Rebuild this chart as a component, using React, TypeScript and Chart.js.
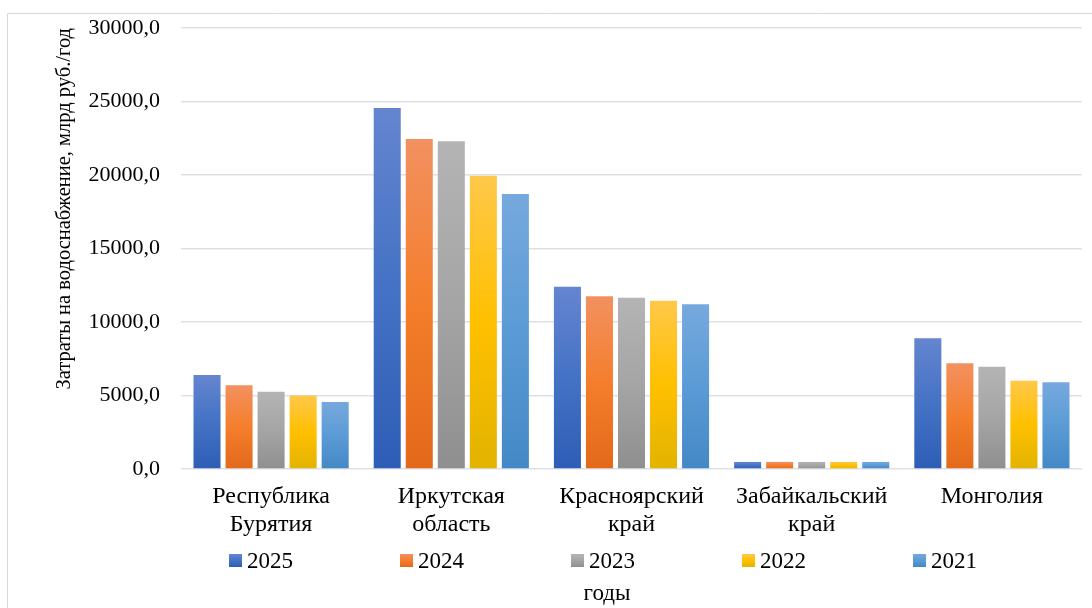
import React, { useEffect, useRef } from "react";
import { Chart, registerables } from "chart.js";

Chart.register(...registerables);

// Regions (two-line labels where the name wraps)
const categories: string[][] = [
  ["Республика", "Бурятия"],
  ["Иркутская", "область"],
  ["Красноярский", "край"],
  ["Забайкальский", "край"],
  ["Монголия"],
];

const years = ["2025", "2024", "2023", "2022", "2021"];

// Water supply costs, bln rub./year
const values2025 = [6400, 24550, 12400, 480, 8900];
const values2024 = [5700, 22450, 11750, 480, 7200];
const values2023 = [5250, 22300, 11650, 480, 6950];
const values2022 = [5000, 19950, 11450, 480, 6000];
const values2021 = [4550, 18700, 11200, 480, 5900];

const yTicks = [0, 5000, 10000, 15000, 20000, 25000, 30000];

const yTitle = "Затраты на водоснабжение, млрд руб./год";
const xTitle = "годы";

// light top, base middle, dark bottom
const gradientStops: string[][] = [
  ["#6585d0", "#4472c4", "#2e5db6"],
  ["#f29160", "#f47e2c", "#e2691a"],
  ["#b4b4b4", "#a5a5a5", "#8f8f8f"],
  ["#ffc84a", "#ffc000", "#e2b300"],
  ["#76a9de", "#5b9bd5", "#4388c6"],
];

const FONT = '"Liberation Serif", serif';

function makeGradient(ctx: CanvasRenderingContext2D, top: number, bottom: number, stops: string[]) {
  const g = ctx.createLinearGradient(0, top, 0, bottom);
  g.addColorStop(0, stops[0]);
  g.addColorStop(0.5, stops[1]);
  g.addColorStop(1, stops[2]);
  return g;
}

const framePlugin = {
  id: "frame",
  beforeDraw(chart: any) {
    const { ctx } = chart;
    ctx.save();
    ctx.fillStyle = "#ffffff";
    ctx.fillRect(0, 0, chart.width, chart.height);
    ctx.strokeStyle = "#d9d9d9";
    ctx.lineWidth = 1;
    ctx.beginPath();
    ctx.moveTo(7.5, chart.height + 2);
    ctx.lineTo(7.5, 13.5);
    ctx.lineTo(chart.width + 2, 13.5);
    ctx.stroke();
    ctx.restore();
  },
};

const bottomKeyPlugin = {
  id: "bottomKey",
  afterDraw(chart: any) {
    const { ctx } = chart;
    const datasets = chart.data.datasets;
    const step = 171;
    const firstX = 229;
    ctx.save();
    ctx.font = `23px ${FONT}`;
    ctx.textBaseline = "alphabetic";
    ctx.textAlign = "left";
    datasets.forEach((ds: any, i: number) => {
      const x = firstX + i * step;
      const boxTop = 554;
      ctx.fillStyle = makeGradient(ctx, boxTop, boxTop + 13, gradientStops[i]);
      ctx.fillRect(x, boxTop, 13, 13);
      ctx.fillStyle = "#000000";
      ctx.fillText(ds.label, x + 18, 568);
    });
    ctx.textAlign = "center";
    ctx.fillText(xTitle, 607, 600);
    ctx.restore();
  },
};

const seriesValues = [values2025, values2024, values2023, values2022, values2021];

export default function App() {
  const canvasRef = useRef<HTMLCanvasElement | null>(null);

  useEffect(() => {
    const canvas = canvasRef.current;
    if (!canvas) return;

    const datasets = years.map((year, i) => ({
      label: year,
      data: seriesValues[i],
      backgroundColor: (context: any) => {
        const c = context.chart;
        const stops = gradientStops[i];
        if (!c.chartArea || context.type !== "data") return stops[1];
        const yScale = c.scales.y;
        const top = yScale.getPixelForValue(context.raw);
        const bottom = yScale.getPixelForValue(0);
        if (!isFinite(top) || !isFinite(bottom) || bottom - top < 0.5) return stops[1];
        return makeGradient(c.ctx, top, bottom, stops);
      },
      borderWidth: 0,
      categoryPercentage: 0.889,
      barPercentage: 0.844,
    }));

    const chart = new Chart(canvas, {
      type: "bar",
      data: { labels: categories, datasets },
      plugins: [framePlugin, bottomKeyPlugin],
      options: {
        responsive: false,
        animation: false,
        layout: { padding: { top: 28, right: 10, bottom: 0, left: 0 } },
        plugins: {
          legend: { display: false },
          tooltip: { enabled: false },
        },
        scales: {
          x: {
            grid: { display: false, drawTicks: false },
            border: { display: false },
            ticks: {
              color: "#000000",
              padding: 14,
              maxRotation: 0,
              autoSkip: false,
              font: { family: FONT, size: 24, lineHeight: 1.17 },
            },
            afterFit: (scale: any) => {
              scale.height = 139;
            },
          },
          y: {
            min: 0,
            max: 30000,
            afterBuildTicks: (scale: any) => {
              scale.ticks = yTicks.map((v) => ({ value: v }));
            },
            grid: { color: "#dde1e7", lineWidth: 1.5, drawTicks: false },
            border: { display: false },
            ticks: {
              color: "#000000",
              padding: 21,
              font: { family: FONT, size: 22, lineHeight: 0.5 },
              callback: (v: any) => Number(v).toFixed(1).replace(".", ","),
            },
            title: {
              display: true,
              text: yTitle,
              align: "end",
              color: "#000000",
              font: { family: FONT, size: 20.5 },
              padding: { top: 52, bottom: 0 },
            },
            afterFit: (scale: any) => {
              scale.width = 181;
            },
          },
        },
      },
    });

    return () => chart.destroy();
  }, []);

  return (
    <div style={{ position: "fixed", left: 0, top: 0, width: 1092, height: 608, background: "#fff" }}>
      <canvas ref={canvasRef} width={1092} height={608} style={{ display: "block" }} />
    </div>
  );
}
